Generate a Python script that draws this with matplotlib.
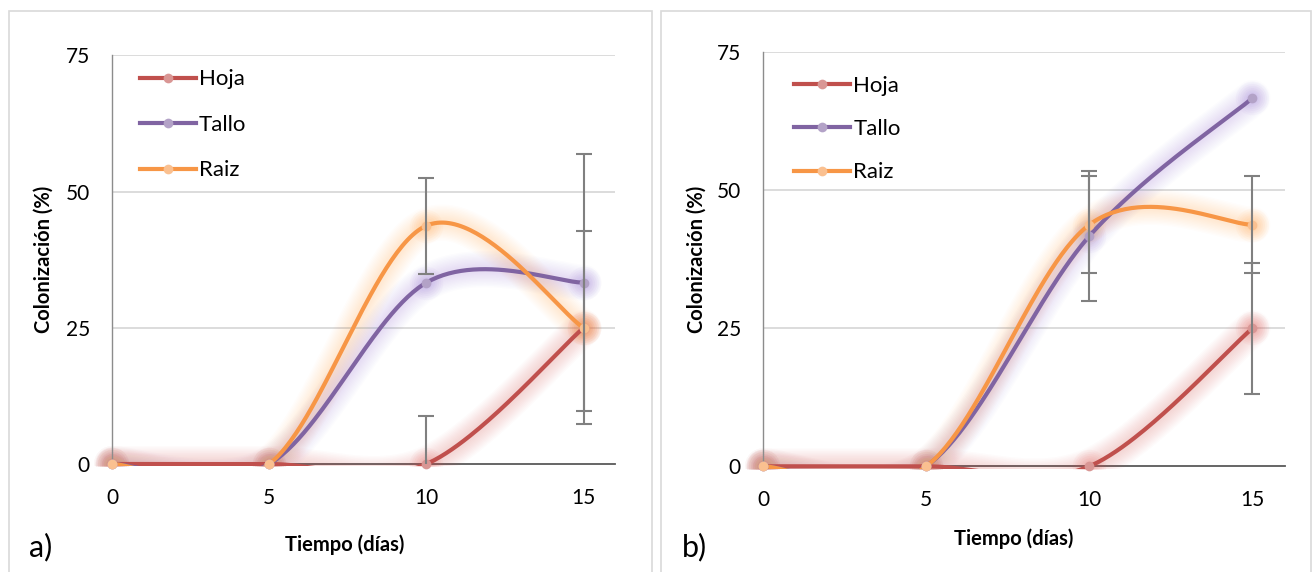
import numpy as np
import matplotlib.pyplot as plt
from matplotlib.lines import Line2D

plt.rcParams['font.family'] = ['Lato', 'DejaVu Sans']

# Data
dias = [0, 5, 10, 15]
series = ["Hoja", "Tallo", "Raiz"]

# panel a)
hoja_a = [0, 0, 0, 25]
tallo_a = [0, 0, 33.3, 33.3]
raiz_a = [0, 0, 43.75, 25]
hoja_a_err = [0, 0, 8.8, 17.7]
tallo_a_err = [0, 0, 0, 23.6]
raiz_a_err = [0, 0, 8.8, 0]

# panel b)
hoja_b = [0, 0, 0, 25]
tallo_b = [0, 0, 41.7, 66.7]
raiz_b = [0, 0, 43.75, 43.75]
hoja_b_err = [0, 0, 0, 11.9]
tallo_b_err = [0, 0, 11.8, 0]
raiz_b_err = [0, 0, 8.8, 8.8]

yticks = [0, 25, 50, 75]
xticks = [0, 5, 10, 15]

line_colors = {"Hoja": "#C0504D", "Tallo": "#8064A2", "Raiz": "#F79646"}
marker_colors = {"Hoja": "#D99694", "Tallo": "#B3A2C7", "Raiz": "#FAC090"}
glow_colors = {"Hoja": "#E0504A", "Tallo": "#9474D8", "Raiz": "#FFA040"}


def smooth(x, y, n=60):
    # Excel-like smoothed line (Catmull-Rom style bezier)
    x = np.asarray(x, float)
    y = np.asarray(y, float)
    pts = np.column_stack([x, y])
    out = []
    t = np.linspace(0, 1, n)[:, None]
    for i in range(len(pts) - 1):
        p0 = pts[max(i - 1, 0)]
        p1 = pts[i]
        p2 = pts[i + 1]
        p3 = pts[min(i + 2, len(pts) - 1)]
        c1 = p1 + (p2 - p0) / 6
        c2 = p2 - (p3 - p1) / 6
        seg = ((1 - t) ** 3) * p1 + 3 * ((1 - t) ** 2) * t * c1 + 3 * (1 - t) * t ** 2 * c2 + t ** 3 * p2
        out.append(seg if i == 0 else seg[1:])
    seg = np.vstack(out)
    return seg[:, 0], seg[:, 1]


def draw_panel(ax, values, errors, leg_anchor, leg_spacing, xlab_pos, ylab_x):
    ax.set_xlim(0, 16)
    ax.set_ylim(0, 75)
    # lines keep their full width on the zero line, like Excel
    clip = plt.Rectangle((-1, -0.45), 18, 80, transform=ax.transData)
    for yv in yticks[1:]:
        ax.axhline(yv, color="#d9d9d9", lw=1.3, zorder=0)
    ax.axhline(0, color="#595959", lw=1.3, zorder=1, clip_on=False)

    for name in series:
        xs, ys = smooth(dias, values[name])
        c = glow_colors[name]
        # soft glow, many thin layers so it fades smoothly
        for lw in np.arange(26, 4, -2):
            ln, = ax.plot(xs, ys, color=c, lw=lw, alpha=0.02, solid_capstyle="round", zorder=2)
            ln.set_clip_path(clip)
        for ms in np.arange(24, 8, -3):
            ln, = ax.plot(dias, values[name], "o", ms=ms, color=c, alpha=0.045, mew=0, zorder=2)
            ln.set_clip_path(clip)

    for name in series:
        xs, ys = smooth(dias, values[name])
        ln, = ax.plot(xs, ys, color=line_colors[name], lw=3.0, solid_capstyle="round", zorder=3)
        ln.set_clip_path(clip)
        ax.plot(dias, values[name], "o", ms=7, color=marker_colors[name], mew=0, zorder=4,
                clip_on=False)

    for name in series:
        err = np.array(errors[name])
        sel = err > 0
        if sel.any():
            ax.errorbar(np.array(dias)[sel], np.array(values[name])[sel], yerr=err[sel],
                        fmt="none", ecolor="#808080", elinewidth=1.5, capsize=6,
                        capthick=1.5, zorder=5)

    ax.set_xticks(xticks)
    ax.set_yticks(yticks)
    ax.tick_params(length=0, labelsize=15, colors="black")
    ax.tick_params(axis="y", pad=16)
    ax.tick_params(axis="x", pad=17)
    for s in ["top", "right", "bottom"]:
        ax.spines[s].set_visible(False)
    ax.spines["left"].set_color("#8c8c8c")
    ax.spines["left"].set_linewidth(1.0)

    ax.text(ylab_x, 0.5, "Colonización (%)", transform=ax.transAxes, rotation=90,
            ha="center", va="center", fontsize=14.5, fontweight="bold")
    ax.text(xlab_pos[0], xlab_pos[1], "Tiempo (días)", transform=ax.transAxes,
            ha="center", va="center", fontsize=14.5, fontweight="bold")

    handles = [Line2D([], [], color=line_colors[n], lw=3.0, marker="o", ms=7,
                      mfc=marker_colors[n], mec=marker_colors[n], mew=0) for n in series]
    ax.legend(handles, series, loc="upper left", bbox_to_anchor=leg_anchor, frameon=False,
              fontsize=16, handlelength=2.5, handletextpad=0.15, borderpad=0,
              borderaxespad=0, labelspacing=leg_spacing, numpoints=1)


fig = plt.figure(figsize=(13.12, 5.72), dpi=100)

# panel frames
fig.add_artist(plt.Rectangle((9 / 1312, -0.1), 643 / 1312, 1.1 - 11 / 572, transform=fig.transFigure,
                             fill=False, ec="#d9d9d9", lw=1.2))
fig.add_artist(plt.Rectangle((661 / 1312, -0.1), 650 / 1312, 1.1 - 11 / 572, transform=fig.transFigure,
                             fill=False, ec="#d9d9d9", lw=1.2))

ax_a = fig.add_axes([0.0854, 0.1888, 0.3833, 0.7142])
ax_b = fig.add_axes([0.5816, 0.1848, 0.3979, 0.7239])

draw_panel(ax_a,
           {"Hoja": hoja_a, "Tallo": tallo_a, "Raiz": raiz_a},
           {"Hoja": hoja_a_err, "Tallo": tallo_a_err, "Raiz": raiz_a_err},
           leg_anchor=(0.056, 0.966), leg_spacing=1.15, xlab_pos=(0.463, -0.198), ylab_x=-0.135)
draw_panel(ax_b,
           {"Hoja": hoja_b, "Tallo": tallo_b, "Raiz": raiz_b},
           {"Hoja": hoja_b_err, "Tallo": tallo_b_err, "Raiz": raiz_b_err},
           leg_anchor=(0.060, 0.943), leg_spacing=1.05, xlab_pos=(0.481, -0.176), ylab_x=-0.128)

fig.text(29 / 1312, 1 - 547 / 572, "a)", fontsize=22, ha="left", va="center")
fig.text(682 / 1312, 1 - 547 / 572, "b)", fontsize=22, ha="left", va="center")

fig.savefig("out.png", dpi=100)
